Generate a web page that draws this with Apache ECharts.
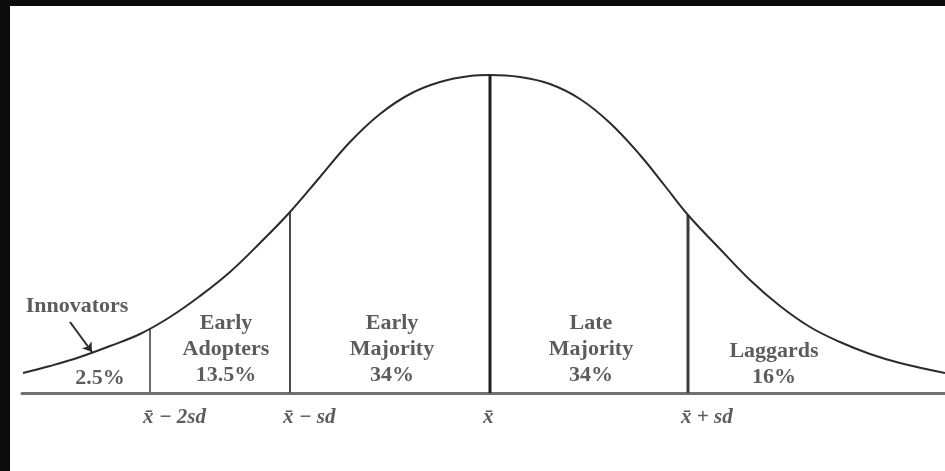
<!DOCTYPE html>
<html>
<head>
<meta charset="utf-8">
<title>Adopter categories</title>
<script src="https://cdn.jsdelivr.net/npm/echarts@6/dist/echarts.min.js"></script>
<style>
  html, body { margin: 0; padding: 0; background: #fff; }
  #main { width: 945px; height: 471px; }
</style>
</head>
<body>
<div id="main"></div>
<script>
// curve: x position, height above the baseline
var curveX = [23, 50, 80, 110, 140, 170, 200, 230, 260, 290, 320, 350, 380, 410, 440, 470, 490,
              520, 550, 580, 610, 640, 665, 688, 720, 750, 780, 810, 840, 870, 900, 945];
var curveY = [20, 27, 36, 47, 59, 76, 97, 121, 150, 181, 216, 251, 279, 299, 311, 317, 318,
              316, 309, 294, 270, 238, 207, 178, 144, 113, 87, 66, 51, 39, 30, 20];

// dividers between the categories
var cutX = [150, 290, 490, 688];
var cutTop = [64, 181, 318, 178];
var cutNames = ['x\u0304 \u2212 2sd', 'x\u0304 \u2212 sd', 'x\u0304', 'x\u0304 + sd'];

// category labels
var groupNames = ['Early\nAdopters', 'Early\nMajority', 'Late\nMajority', 'Laggards'];
var groupShares = ['13.5%', '34%', '34%', '16%'];
var groupX = [226, 392, 591, 774];
var groupY = [44, 44, 44, 29];

// innovators: name, share and the arrow pointing at the tail
var innoName = 'Innovators';
var innoShare = '2.5%';
var innoNameAt = [77, 87];
var innoShareAt = [100, 15];
var innoArrow = [[70, 71], [92, 41]];

var ink = '#2b2b2b';
var serif = '"Liberation Serif", "Times New Roman", serif';

var curve = curveX.map(function (x, i) { return [x, curveY[i]]; });

var dividerStyle = [
  { color: '#6a6a6a', width: 2 },
  { color: '#4a4a4a', width: 2 },
  { color: '#1e1e1e', width: 3 },
  { color: '#3c3c3c', width: 3 }
];

var series = [{
  name: 'curve',
  type: 'line',
  data: curve,
  smooth: 0.4,
  symbol: 'none',
  lineStyle: { color: ink, width: 2 },
  z: 3
}];

cutX.forEach(function (x, i) {
  series.push({
    name: 'cut' + i,
    type: 'line',
    data: [[x, 0], [x, cutTop[i]]],
    symbol: 'none',
    lineStyle: dividerStyle[i],
    z: 2
  });
});

// axis marks under the dividers
series.push({
  name: 'cutLabels',
  type: 'scatter',
  symbolSize: 0,
  data: cutX.map(function (x, i) { return { value: [x, 0], name: cutNames[i] }; }),
  label: {
    show: true,
    position: 'bottom',
    distance: 14,
    align: 'left',
    offset: [-7, 0],
    formatter: '{b}',
    fontFamily: serif,
    fontStyle: 'italic',
    fontWeight: 'bold',
    fontSize: 21,
    color: '#333'
  },
  silent: true
});

series.push({
  name: 'groups',
  type: 'scatter',
  symbolSize: 0,
  data: groupX.map(function (x, i) {
    return { value: [x, groupY[i]], name: groupNames[i] + '\n' + groupShares[i] };
  }),
  label: {
    show: true,
    position: 'inside',
    formatter: '{b}',
    fontFamily: serif,
    fontWeight: 'bold',
    fontSize: 22,
    lineHeight: 26,
    align: 'center',
    color: '#333'
  },
  silent: true
});

series.push({
  name: 'innovators',
  type: 'scatter',
  symbolSize: 0,
  data: [
    { value: innoNameAt, name: innoName },
    { value: innoShareAt, name: innoShare }
  ],
  label: {
    show: true,
    position: 'inside',
    formatter: '{b}',
    fontFamily: serif,
    fontWeight: 'bold',
    fontSize: 22,
    color: '#333'
  },
  markLine: {
    silent: true,
    symbol: ['none', 'arrow'],
    symbolSize: 9,
    label: { show: false },
    lineStyle: { color: ink, width: 2, type: 'solid' },
    data: [[{ coord: innoArrow[0] }, { coord: innoArrow[1] }]]
  },
  silent: true
});

var chart = echarts.init(document.getElementById('main'));
chart.setOption({
  backgroundColor: '#ffffff',
  animation: false,
  grid: { left: 22, right: 0, top: 6, bottom: 78, outerBoundsMode: 'none' },
  xAxis: {
    type: 'value',
    min: 22,
    max: 945,
    axisLine: { show: true, lineStyle: { color: '#707070', width: 3 } },
    axisTick: { show: false },
    axisLabel: { show: false },
    splitLine: { show: false }
  },
  yAxis: {
    type: 'value',
    min: 0,
    max: 387,
    axisLine: { show: false },
    axisTick: { show: false },
    axisLabel: { show: false },
    splitLine: { show: false }
  },
  graphic: [
    { type: 'rect', left: 0, top: 0, shape: { width: 10, height: 471 }, style: { fill: '#0c0c0c' } },
    { type: 'rect', left: 0, top: 0, shape: { width: 945, height: 6 }, style: { fill: '#0c0c0c' } }
  ],
  series: series
});
</script>
</body>
</html>
